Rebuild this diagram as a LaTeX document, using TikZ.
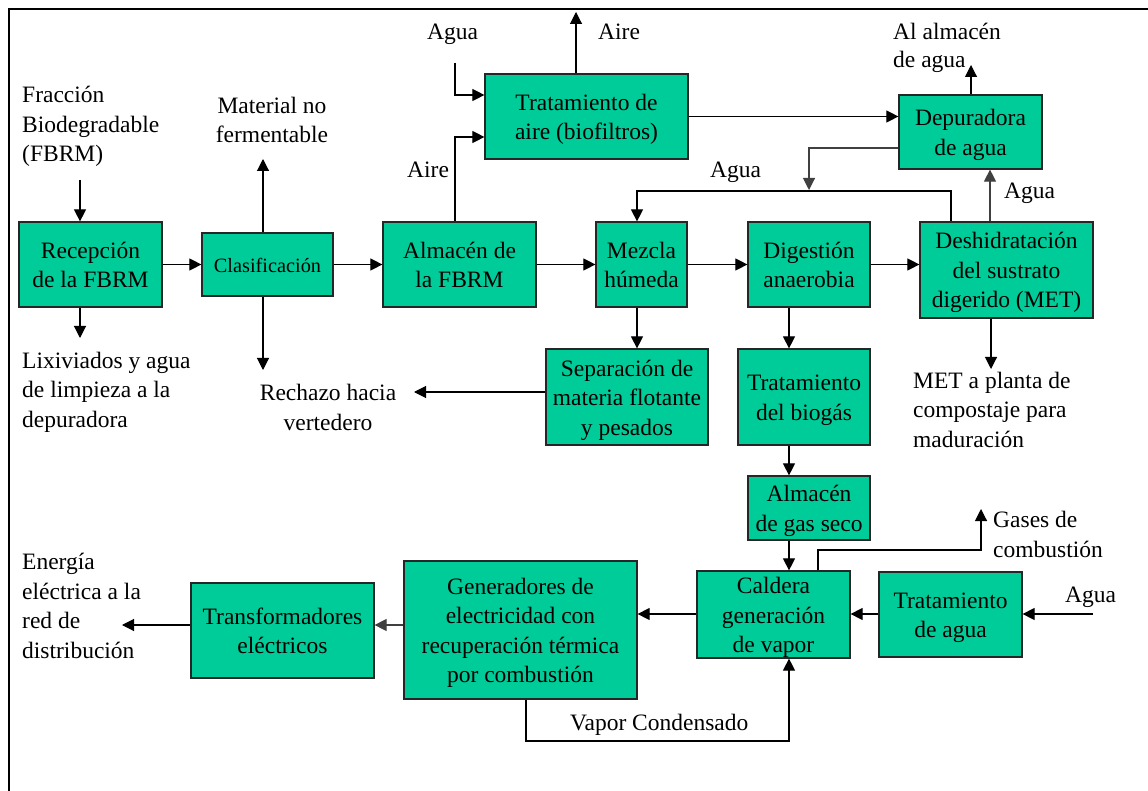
\documentclass[tikz,border=0pt]{standalone}
\usepackage{fontspec}
\setmainfont{Liberation Serif}
\usetikzlibrary{arrows.meta}
\definecolor{boxgreen}{RGB}{0,204,153}
\definecolor{lngray}{RGB}{64,64,64}
\newcommand\myfs{\fontsize{23.5}{29.5}\selectfont}
\newcommand\mysmallfs{\fontsize{20.3}{25}\selectfont}
\newcommand\mystrut{\rule[-5.5pt]{0pt}{28pt}}
\newcommand\mybox[6]{\node[box, minimum width={#4-#2}, minimum height={#5-#3}] (#1) at ({(#2+#4)/2},{(#3+#5)/2}) {\mystrut#6\mystrut};}
\tikzset{
  box/.style={draw=black!85, fill=boxgreen, line width=1.2pt, inner sep=0pt, align=center, font=\myfs},
  lbl/.style={inner sep=0pt, align=left, font=\myfs},
  arr/.style={line width=1.1pt, -{Triangle[length=12pt,width=12pt]}},
}
\begin{document}
\begin{tikzpicture}[x=1pt,y=-1pt]
\useasboundingbox (0,0) rectangle (1148,791);
\fill[white] (0,0) rectangle (1148,791);
\draw[line width=2.5pt] (9,791) -- (9,9) -- (1148,9);

% boxes
\mybox{rec}{19}{222}{162}{307}{Recepción\\de la FBRM}
\node[box, font=\mysmallfs, minimum width=131, minimum height=63] (cla) at (267.5,264.5) {\mystrut Clasificación};
\mybox{alm}{383}{222}{536}{307}{Almacén de\\la FBRM}
\mybox{mez}{596}{222}{687}{307}{Mezcla\\húmeda}
\mybox{dig}{748}{222}{870}{307}{Digestión\\anaerobia}
\mybox{des}{920}{222}{1093}{318}{Deshidratación\\del sustrato\\digerido (MET)}
\mybox{tai}{485}{74}{688}{159}{Tratamiento de\\aire (biofiltros)}
\mybox{dep}{899}{95}{1042}{169}{Depuradora\\de agua}
\mybox{sep}{546}{349}{708}{445}{Separación de\\materia flotante\\y pesados}
\mybox{tbg}{738}{349}{870}{445}{Tratamiento\\del biogás}
\mybox{gas}{748}{476}{870}{540}{Almacén\\de gas seco}
\mybox{cal}{697}{572}{850}{657}{Caldera\\generación\\de vapor}
\mybox{tag}{879}{572}{1022}{657}{Tratamiento\\de agua}
\mybox{gen}{404}{561}{637}{699}{Generadores de\\electricidad con\\recuperación térmica\\por combustión}
\mybox{tra}{191}{583}{374}{678}{Transformadores\\eléctricos}

% labels (base anchor = baseline of last line)
\node[lbl, anchor=base west] (lfr) at (22,162) {Fracción\\Biodegradable\\(FBRM)};
\node[lbl, anchor=base, align=center] (lmat) at (272,143) {Material no\\fermentable};
\node[lbl, anchor=base west] (llix) at (22,427) {Lixiviados y agua\\de limpieza a la\\depuradora};
\node[lbl, anchor=base, align=center] (lrech) at (328,430) {Rechazo hacia\\vertedero};
\node[lbl, anchor=base west] (lair1) at (407,178) {Aire};
\node[lbl, anchor=base west] (lagua1) at (427,40) {Agua};
\node[lbl, anchor=base west] (lair2) at (598,40) {Aire};
\node[lbl, anchor=base west, font=\fontsize{23.5}{28}\selectfont] (lalm) at (893,68) {Al almacén\\de agua};
\node[lbl, anchor=base west] (lagua2) at (710,178) {Agua};
\node[lbl, anchor=base west] (lagua3) at (1004,199) {Agua};
\node[lbl, anchor=base west] (lmet) at (913,447) {MET a planta de\\compostaje para\\maduración};
\node[lbl, anchor=base west] (lgas) at (993,557) {Gases de\\combustión};
\node[lbl, anchor=base west] (lagua4) at (1065,602) {Agua};
\node[lbl, anchor=base west] (lene) at (22,658) {Energía\\eléctrica a la\\red de\\distribución};
\node[lbl, anchor=base west] (lvap) at (570,730) {Vapor Condensado};

% connectors
\coordinate (pfr) at (80,180);
\draw[arr] (pfr) -- (pfr |- rec.north);
\draw[arr] (rec.east) -- (cla.west);
\draw[arr] (cla.east) -- (alm.west);
\draw[arr] (alm.east) -- (mez.west);
\draw[arr] (mez.east) -- (dig.west);
\draw[arr] (dig.east) -- (dig.east -| des.west);
\coordinate (pmat) at (263,159);
\draw[arr] (pmat |- cla.north) -- (pmat);
\coordinate (prech) at (263,370);
\draw[arr] (prech |- cla.south) -- (prech);
\coordinate (plix) at (80,338);
\draw[arr] (plix |- rec.south) -- (plix);
\coordinate (pair1) at (455,137);
\draw[arr] (pair1 |- alm.north) -- (pair1) -- (pair1 -| tai.west);
\coordinate (pagua1) at (455,63);
\coordinate (pagua1b) at (455,95);
\draw[arr] (pagua1) -- (pagua1b) -- (pagua1b -| tai.west);
\coordinate (pair2) at (576,12);
\draw[arr] (pair2 |- tai.north) -- (pair2);
\draw[arr] (tai.east) -- (tai.east -| dep.west);
\coordinate (palm) at (971,65);
\draw[arr] (palm |- dep.north) -- (palm);
\coordinate (pdl) at (809,148);
\coordinate (pdl2) at (809,190);
\draw[arr, draw=lngray] (pdl -| dep.west) -- (pdl) -- (pdl2);
\coordinate (pw1) at (951,191);
\coordinate (pw2) at (637,191);
\draw[arr] (pw1 |- des.north) -- (pw1) -- (pw2) -- (pw2 |- mez.north);
\coordinate (pw3) at (990,200);
\draw[arr, draw=lngray] (pw3 |- des.north) -- (pw3 |- dep.south);
\coordinate (pmet) at (991,369);
\draw[arr] (pmet |- des.south) -- (pmet);
\coordinate (psep) at (637,330);
\draw[arr] (psep |- mez.south) -- (psep |- sep.north);
\coordinate (prej) at (414,392);
\draw[arr] (prej -| sep.west) -- (prej);
\coordinate (pbio) at (789,400);
\draw[arr] (pbio |- dig.south) -- (pbio |- tbg.north);
\draw[arr] (pbio |- tbg.south) -- (pbio |- gas.north);
\draw[arr] (pbio |- gas.south) -- (pbio |- cal.north);
\coordinate (pg1) at (818,550);
\coordinate (pg2) at (981,550);
\coordinate (pg3) at (981,509);
\draw[arr] (pg1 |- cal.north) -- (pg1) -- (pg2) -- (pg3);
\coordinate (pagua4) at (1093,614);
\draw[arr] (pagua4) -- (pagua4 -| tag.east);
\draw[arr] (tag.west |- pagua4) -- (pagua4 -| cal.east);
\draw[arr] (cal.west |- pagua4) -- (pagua4 -| gen.east);
\coordinate (pen) at (122,625);
\draw[arr, draw=lngray] (pen -| gen.west) -- (pen -| tra.east);
\draw[arr] (pen -| tra.west) -- (pen);
\coordinate (pv1) at (526,741);
\coordinate (pv2) at (789,741);
\draw[arr] (pv1 |- gen.south) -- (pv1) -- (pv2) -- (pv2 |- cal.south);
\end{tikzpicture}
\end{document}
